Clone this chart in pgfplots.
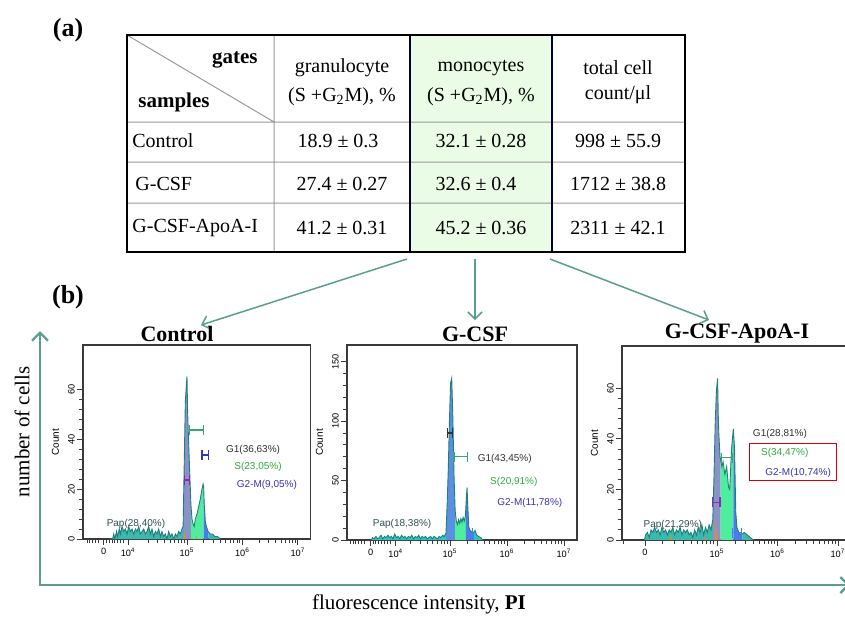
\documentclass[border=0pt]{standalone}
\usepackage{pgfplots}
\usepackage{pgfplotstable}
\pgfplotsset{compat=1.18}
\usepgfplotslibrary{fillbetween}
\usetikzlibrary{arrows.meta}
\usepackage{fontspec}
\setmainfont{Liberation Serif}
\newfontfamily\arial{Liberation Sans}

\definecolor{arr}{HTML}{5A9E90}
\definecolor{papc}{HTML}{3CB8AC}
\definecolor{slate}{HTML}{8C92C8}
\definecolor{gblue}{HTML}{5B8FE0}
\definecolor{sgreen}{HTML}{4EEE9E}
\definecolor{g2blue}{HTML}{4A7CF0}
\definecolor{outc}{HTML}{1F7F7A}
\definecolor{axc}{HTML}{3A3A3A}
\definecolor{mono}{HTML}{EAFBE6}
\definecolor{gridc}{HTML}{9A9A9A}
\definecolor{txtg1}{HTML}{303030}
\definecolor{txts}{HTML}{2EAA3A}
\definecolor{txtg2}{HTML}{3434B0}
\definecolor{txtpap}{HTML}{2F4F4F}
\definecolor{orng}{HTML}{F08A20}
\definecolor{purp}{HTML}{8A2BB0}

\newcommand\fs[1]{\fontsize{#1}{#1}\selectfont}
% gate marker: colour, x1, x2, y, ylow, yhigh
\newcommand\gate[6]{%
  \draw[#1, line width=0.55pt] (axis cs:#2,#4) -- (axis cs:#3,#4)
    (axis cs:#2,#5) -- (axis cs:#2,#6) (axis cs:#3,#5) -- (axis cs:#3,#6);}

% histograms: d = decade position on the PI axis, c = count
\pgfplotstableread{
d c
3.60 0
3.66 0
3.68 2
3.70 0
3.73 3
3.75 1
3.78 4
3.80 2
3.83 5
3.86 3
3.89 4
3.92 2
3.95 5
3.98 3
4.01 4
4.04 2
4.07 4
4.10 3
4.13 5
4.16 2
4.19 3
4.22 4
4.25 2
4.28 3
4.31 5
4.34 2
4.37 4
4.40 1
4.43 3
4.46 2
4.49 4
4.52 1
4.55 3
4.58 1
4.61 2
4.64 0
4.67 3
4.70 1
4.73 2
4.76 0
4.79 2
4.82 1
4.85 3
4.88 2
4.91 4
4.93 5
4.95 30
4.97 55
4.99 62
5.00 65
5.01 52
5.03 38
5.05 26
5.07 14
5.09 8
5.11 6
5.13 5
5.15 8
5.18 10
5.21 13
5.24 16
5.27 20
5.29 22
5.30 21
5.31 14
5.33 7
5.35 5
5.38 3
5.42 2
5.46 2
5.50 1
5.55 1
5.60 0
}\ctrl

\pgfplotstableread{
d c
3.62 0
3.64 2
3.67 1
3.70 3
3.73 1
3.76 2
3.79 4
3.82 1
3.85 3
3.88 2
3.91 4
3.94 2
3.97 3
4.00 1
4.03 5
4.06 2
4.09 3
4.12 1
4.15 4
4.18 2
4.21 3
4.24 1
4.27 3
4.30 2
4.33 4
4.36 1
4.39 3
4.42 2
4.45 4
4.48 1
4.51 3
4.54 2
4.57 3
4.60 1
4.63 2
4.66 3
4.69 1
4.72 3
4.75 2
4.78 1
4.81 3
4.84 2
4.87 4
4.90 3
4.93 6
4.95 30
4.97 60
4.99 100
5.01 132
5.03 136
5.05 103
5.07 55
5.09 25
5.11 16
5.13 13
5.15 17
5.17 14
5.19 18
5.21 15
5.23 19
5.25 16
5.27 20
5.29 38
5.30 44
5.31 30
5.33 11
5.35 8
5.38 7
5.41 6
5.44 8
5.47 4
5.50 3
5.54 2
5.58 0
}\gcsf

\pgfplotstableread{
d c
3.80 0
3.82 2
3.85 3
3.88 1
3.91 4
3.94 3
3.97 5
4.00 3
4.03 4
4.06 2
4.09 5
4.12 3
4.15 4
4.18 2
4.21 4
4.24 3
4.27 5
4.30 2
4.33 4
4.36 3
4.39 5
4.42 2
4.45 4
4.48 3
4.51 4
4.54 2
4.57 3
4.60 1
4.63 4
4.66 2
4.69 5
4.72 3
4.75 6
4.78 2
4.81 5
4.84 3
4.87 6
4.90 4
4.93 8
4.95 25
4.97 46
4.99 59
5.01 64
5.02 50
5.03 42
5.05 33
5.08 29
5.10 31
5.13 26
5.16 29
5.19 21
5.21 20
5.24 36
5.27 44
5.29 36
5.31 11
5.33 5
5.36 3
5.40 2
5.45 3
5.50 2
5.55 1
5.60 0
}\apoa

\pgfplotsset{histo/.style={
  scale only axis, anchor=south west, set layers, clip=false,
  axis line style={draw=axc, line width=0.6pt},
  tick align=outside, tick pos=left,
  major tick length=3pt, minor tick length=2.2pt,
  tick style={draw=axc, line width=0.5pt},
  minor tick style={draw=axc, line width=0.5pt},
  ymin=0,
  ticklabel style={font=\arial\fs{4.6}, text=black},
  yticklabel style={rotate=90, anchor=south, inner sep=1pt},
  xticklabel style={inner sep=1pt, yshift=-0.5pt},
  /pgf/number format/assume math mode=true,
  ylabel={Count}, ylabel style={font=\arial\fs{5}},
}}

\begin{document}
\begin{tikzpicture}
\begin{scope}[x=0.5pt, y=-0.5pt]
  % table (a)
  \fill[mono] (410,35) rectangle (552,252);
  \draw[gridc, line width=0.5pt] (127,122) -- (685,122) (127,162) -- (685,162)
    (127,203) -- (685,203) (274,35) -- (274,252) (127,35) -- (274,122);
  \draw[black!80!blue, line width=0.7pt] (410,35) -- (410,252) (552,35) -- (552,252);
  \draw[black, line width=0.8pt] (127,35) rectangle (685,252);
  \begin{scope}[every node/.style={font=\fs{10}, inner sep=0pt}]
    \node[anchor=east, font=\fs{10.5}\bfseries] at (258,60) {gates};
    \node[anchor=west, font=\fs{10.5}\bfseries] at (138,102) {samples};
    \node at (342,68) {granulocyte};
    \node at (342,97) {(S +G\textsubscript{2}M), \%};
    \node at (481,68) {monocytes};
    \node at (481,97) {(S +G\textsubscript{2}M), \%};
    \node at (618,68) {total cell};
    \node at (618,95) {count/μl};
    \node[anchor=west] at (132,141) {Control};
    \node[anchor=west] at (135,184) {G-CSF};
    \node[anchor=west] at (132,228) {G-CSF-ApoA-I};
    \node at (338,141) {18.9 ± 0.3};
    \node at (342,184) {27.4 ± 0.27};
    \node at (342,228) {41.2 ± 0.31};
    \node at (481,141) {32.1 ± 0.28};
    \node at (476,184) {32.6 ± 0.4};
    \node at (481,228) {45.2 ± 0.36};
    \node at (618,141) {998 ± 55.9};
    \node at (618,184) {1712 ± 38.8};
    \node at (618,228) {2311 ± 42.1};
  \end{scope}
  \node[font=\fs{13}\bfseries] at (68,30) {(a)};
  \node[font=\fs{13}\bfseries] at (68,297) {(b)};
  % arrows from the monocytes column
  \draw[arr, line width=0.75pt, -{Straight Barb[length=3.5pt, width=7pt]}]
    (407,259) -- (201,325);
  \draw[arr, line width=0.75pt, -{Straight Barb[length=3.5pt, width=7pt]}]
    (475,259) -- (475,320);
  \draw[arr, line width=0.75pt, -{Straight Barb[length=3.5pt, width=7pt]}]
    (550,259) -- (709,320);
  % panel titles
  \node[font=\fs{11}\bfseries] at (177,334) {Control};
  \node[font=\fs{11}\bfseries] at (475,334) {G-CSF};
  \node[font=\fs{11}\bfseries] at (737,334) {G-CSF-ApoA-I};
  % outer axes of panel (b)
  \draw[arr, line width=1.2pt, -{Straight Barb[length=4pt, width=8pt]}]
    (40,585) -- (40,331);
  \draw[arr, line width=1.2pt, -{Straight Barb[length=4pt, width=8pt]}]
    (39.4,585) -- (850,585);
  \node[rotate=90, font=\fs{10.5}] at (22,432) {number of cells};
  \node[font=\fs{10.5}] at (419,604) {fluorescence intensity, \textbf{PI}};
\end{scope}

% Control
\begin{axis}[histo, at={(41.5pt,-269.5pt)}, width=113.85pt, height=97pt,
  xmin=3.126, xmax=7.229, ymax=77.6,
  xtick={3.5,3.94,5,6,7},
  xticklabels={0,10\textsuperscript{4},10\textsuperscript{5},10\textsuperscript{6},10\textsuperscript{7}},
  minor xtick={3.2,3.25,...,3.45,3.55,3.6,...,3.9,4.301,4.477,4.602,4.699,4.778,4.845,4.903,4.954,5.301,5.477,5.602,5.699,5.778,5.845,5.903,5.954,6.301,6.477,6.602,6.699,6.778,6.845,6.903,6.954},
  ytick={0,20,40,60}, minor y tick num=4]
  \addplot[draw=none, name path=bc] coordinates {(3.60,0) (5.60,0)};
  \addplot[draw=outc, line width=0.45pt, name path=hc] table[x=d, y=c] {\ctrl};
  \addplot[fill=papc, draw=none] fill between[of=hc and bc, soft clip={domain=3.5:4.93}];
  \addplot[fill=slate, draw=none] fill between[of=hc and bc, soft clip={domain=4.93:5.07}];
  \addplot[fill=sgreen, draw=none] fill between[of=hc and bc, soft clip={domain=5.07:5.30}];
  \addplot[fill=g2blue, draw=none] fill between[of=hc and bc, soft clip={domain=5.30:5.39}];
  \addplot[fill=papc, draw=none] fill between[of=hc and bc, soft clip={domain=5.39:5.7}];
  \addplot[fill=orng, draw=none] coordinates {(4.94,0) (4.955,3) (4.97,0)};
  \addplot[fill=orng, draw=none] coordinates {(5.16,0) (5.17,1.5) (5.18,0)};
  \gate{sgreen!70!black}{5.05}{5.29}{43.6}{41.6}{45.6}
  \gate{txtg2}{5.27}{5.38}{33.6}{31.6}{35.6}
  \gate{purp}{4.95}{5.05}{23.6}{21.6}{25.6}
  \begin{scope}[every node/.style={font=\arial\fs{5}, inner sep=0pt}]
    \node[text=txtpap] at (axis cs:4.08,6.2) {Pap(28,40\%)};
    \node[text=txtg1] at (axis cs:6.19,35.6) {G1(36,63\%)};
    \node[text=txts] at (axis cs:6.28,28.8) {S(23,05\%)};
    \node[text=txtg2] at (axis cs:6.44,21.6) {G2-M(9,05\%)};
  \end{scope}
\end{axis}

% G-CSF
\begin{axis}[histo, at={(173.5pt,-270pt)}, width=115pt, height=97.5pt,
  xmin=3.193, xmax=7.228, ymax=164,
  xtick={3.61,4.05,5,6,7},
  xticklabels={0,10\textsuperscript{4},10\textsuperscript{5},10\textsuperscript{6},10\textsuperscript{7}},
  minor xtick={3.25,3.3,...,3.55,3.65,3.7,...,4.0,4.301,4.477,4.602,4.699,4.778,4.845,4.903,4.954,5.301,5.477,5.602,5.699,5.778,5.845,5.903,5.954,6.301,6.477,6.602,6.699,6.778,6.845,6.903,6.954},
  ytick={0,50,100,150}, minor y tick num=4]
  \addplot[draw=none, name path=bg] coordinates {(3.62,0) (5.58,0)};
  \addplot[draw=outc, line width=0.45pt, name path=hg] table[x=d, y=c] {\gcsf};
  \addplot[fill=papc!80!cyan, draw=none] fill between[of=hg and bg, soft clip={domain=3.5:4.93}];
  \addplot[fill=gblue, draw=none] fill between[of=hg and bg, soft clip={domain=4.93:5.09}];
  \addplot[fill=sgreen, draw=none] fill between[of=hg and bg, soft clip={domain=5.09:5.28}];
  \addplot[fill=g2blue, draw=none] fill between[of=hg and bg, soft clip={domain=5.28:5.42}];
  \addplot[fill=papc!80!cyan, draw=none] fill between[of=hg and bg, soft clip={domain=5.42:5.7}];
  \gate{black!80}{4.95}{5.05}{90}{86}{94}
  \gate{sgreen!70!black}{5.07}{5.30}{70}{66}{74}
  \gate{g2blue}{5.30}{5.40}{6}{2}{10}
  \begin{scope}[every node/.style={font=\arial\fs{5}, inner sep=0pt}]
    \node[text=txtpap] at (axis cs:4.16,13.4) {Pap(18,38\%)};
    \node[text=txtg1] at (axis cs:5.96,68) {G1(43,45\%)};
    \node[text=txts] at (axis cs:6.12,48.7) {S(20,91\%)};
    \node[text=txtg2] at (axis cs:6.40,31) {G2-M(11,78\%)};
  \end{scope}
\end{axis}

% G-CSF-ApoA-I
\begin{axis}[histo, at={(311pt,-270pt)}, width=113pt, height=97pt,
  xmin=3.43, xmax=7.165, ymax=76.8,
  xtick={3.81,5,6,7},
  xticklabels={0,10\textsuperscript{5},10\textsuperscript{6},10\textsuperscript{7}},
  minor xtick={3.45,4.1,4.3,4.45,4.58,4.68,4.76,4.83,4.89,4.94,5.301,5.477,5.602,5.699,5.778,5.845,5.903,5.954,6.301,6.477,6.602,6.699,6.778,6.845,6.903,6.954},
  ytick={0,20,40,60}, minor y tick num=4]
  \addplot[draw=none, name path=ba] coordinates {(3.80,0) (5.60,0)};
  \addplot[draw=outc, line width=0.45pt, name path=ha] table[x=d, y=c] {\apoa};
  \addplot[fill=papc, draw=none] fill between[of=ha and ba, soft clip={domain=3.5:4.93}];
  \addplot[fill=slate, draw=none] fill between[of=ha and ba, soft clip={domain=4.93:5.06}];
  \addplot[fill=sgreen, draw=none] fill between[of=ha and ba, soft clip={domain=5.06:5.27}];
  \addplot[fill=g2blue, draw=none] fill between[of=ha and ba, soft clip={domain=5.27:5.42}];
  \addplot[fill=papc, draw=none] fill between[of=ha and ba, soft clip={domain=5.42:5.7}];
  \addplot[fill=orng, draw=none] coordinates {(4.96,0) (4.98,8) (5.00,0)};
  \addplot[fill=orng, draw=none] coordinates {(4.22,0) (4.235,2) (4.25,0)};
  \addplot[fill=orng, draw=none] coordinates {(4.79,0) (4.80,2.5) (4.81,0)};
  \gate{sgreen!70!black}{5.07}{5.26}{32.5}{30.5}{34.5}
  \gate{purp}{4.93}{5.05}{15}{13}{17}
  \gate{g2blue}{5.26}{5.41}{2.8}{0.8}{4.8}
  \draw[red!85!black, line width=0.5pt] (axis cs:5.53,23.4) rectangle (axis cs:6.97,38.4);
  \begin{scope}[every node/.style={font=\arial\fs{5}, inner sep=0pt}]
    \node[text=txtpap] at (axis cs:4.27,5.8) {Pap(21,29\%)};
    \node[text=txtg1] at (axis cs:6.04,42) {G1(28,81\%)};
    \node[text=txts] at (axis cs:6.12,34.5) {S(34,47\%)};
    \node[text=txtg2] at (axis cs:6.34,26.5) {G2-M(10,74\%)};
  \end{scope}
\end{axis}

\pgfresetboundingbox
\useasboundingbox (0pt,0pt) rectangle (422.5pt,-309pt);
\end{tikzpicture}
\end{document}
